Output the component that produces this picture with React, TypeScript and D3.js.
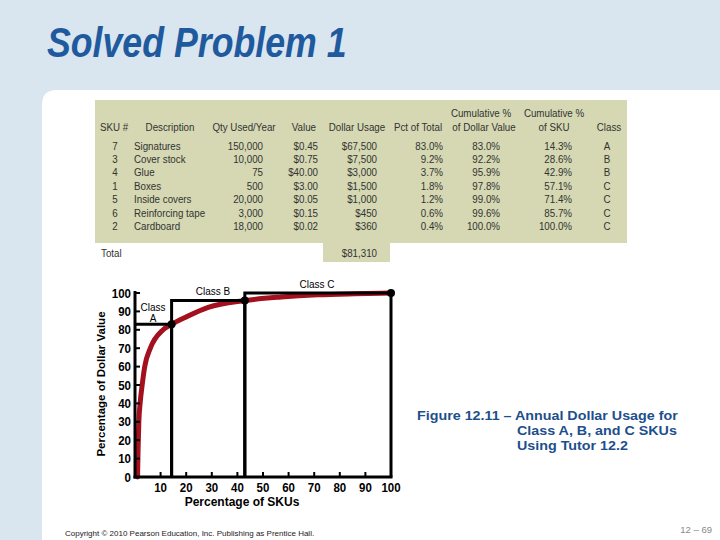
import React from "react";
import * as d3 from "d3";

const skuIds = ["7", "3", "4", "1", "5", "6", "2"];
const descriptions = ["Signatures", "Cover stock", "Glue", "Boxes", "Inside covers", "Reinforcing tape", "Cardboard"];
const qtyUsed = ["150,000", "10,000", "75", "500", "20,000", "3,000", "18,000"];
const unitValues = ["$0.45", "$0.75", "$40.00", "$3.00", "$0.05", "$0.15", "$0.02"];
const dollarUsage = ["$67,500", "$7,500", "$3,000", "$1,500", "$1,000", "$450", "$360"];
const pctOfTotal = ["83.0%", "9.2%", "3.7%", "1.8%", "1.2%", "0.6%", "0.4%"];
const cumDollarPct = [83.0, 92.2, 95.9, 97.8, 99.0, 99.6, 100.0];
const cumSkuPct = [14.3, 28.6, 42.9, 57.1, 71.4, 85.7, 100.0];
const skuClass = ["A", "B", "B", "C", "C", "C", "C"];
const totalUsage = "$81,310";

// curve
const curveX = [1, 1.2, 1.5, 2, 2.8, 3.8, 6, 11, 14.3, 20, 28.6, 42.9, 57.1, 71.4, 85.7, 100];
const curveY = [0, 15, 30, 40, 50, 60, 70, 80, 83, 87, 92.2, 95.9, 97.8, 99, 99.6, 100];

const yTicks = [0, 10, 20, 30, 40, 50, 60, 70, 80, 90, 100];
const xTicks = [10, 20, 30, 40, 50, 60, 70, 80, 90, 100];

const classNames = ["A", "B", "C"];

type TP = { x: number; y: number; sx?: number; anchor?: string; children: React.ReactNode; [k: string]: any };
function T({ x, y, sx = 0.85, anchor = "start", children, ...rest }: TP) {
  return (
    <text transform={`translate(${x},${y}) scale(${sx},1)`} textAnchor={anchor} {...rest}>
      {children}
    </text>
  );
}

export default function App() {
  const x = d3.scaleLinear().domain([0, 100]).range([135, 391]);
  const y = d3.scaleLinear().domain([0, 100]).range([477, 293]);

  const line = d3
    .line<number>()
    .x((_, i) => x(curveX[i]))
    .y((d) => y(d))
    .curve(d3.curveMonotoneX);

  const tFont = "'Liberation Sans', Arial, sans-serif";
  const tColor = "#333333";
  const rowY = (i: number) => 149.5 + i * 13.4;

  const aX = cumSkuPct[0];
  const bX = cumSkuPct[2];
  const aY = cumDollarPct[0];
  const bY = cumDollarPct[2];

  const boxPath = [
    `M${x(0)},${y(aY)} H${x(aX)} V${y(0)}`,
    `M${x(aX)},${y(0)} V${y(bY)} H${x(bX)} V${y(0)}`,
    `M${x(bX)},${y(0)} V${y(100)} H${x(100)} V${y(0)}`,
  ];

  const dots = [0, 2, 6];

  return (
    <svg width={720} height={540} style={{ position: "absolute", left: 0, top: 0 }} fontFamily="Arial, 'Liberation Sans', sans-serif">
      <rect x={0} y={0} width={720} height={540} fill="#dae6ef" />
      <path d="M42,105 Q42,90 57,90 H720 V540 H42 Z" fill="#ffffff" />
      <T x={47} y={57} sx={0.85} fontSize={42} fontWeight="bold" fontStyle="italic" fill="#1f5a9e">
        Solved Problem 1
      </T>

      {/* table */}
      <rect x={95} y={100} width={532} height={143} fill="#d5d8b2" />
      <rect x={323} y={243} width={67} height={19} fill="#d5d8b2" />
      <g fontFamily={tFont} fontSize={11.5} fill={tColor}>
        <T x={481} y={117} anchor="middle">Cumulative %</T>
        <T x={554} y={117} anchor="middle">Cumulative %</T>
        <T x={100} y={131}>SKU #</T>
        <T x={170} y={131} anchor="middle">Description</T>
        <T x={244} y={131} anchor="middle">Qty Used/Year</T>
        <T x={316} y={131} anchor="end">Value</T>
        <T x={357} y={131} anchor="middle">Dollar Usage</T>
        <T x={418} y={131} anchor="middle">Pct of Total</T>
        <T x={484} y={131} anchor="middle">of Dollar Value</T>
        <T x={554} y={131} anchor="middle">of SKU</T>
        <T x={609} y={131} anchor="middle">Class</T>
        {skuIds.map((s, i) => (
          <g key={i}>
            <T x={115} y={rowY(i)} anchor="middle">{s}</T>
            <T x={134} y={rowY(i)}>{descriptions[i]}</T>
            <T x={263} y={rowY(i)} anchor="end">{qtyUsed[i]}</T>
            <T x={318} y={rowY(i)} anchor="end">{unitValues[i]}</T>
            <T x={377} y={rowY(i)} anchor="end">{dollarUsage[i]}</T>
            <T x={443} y={rowY(i)} anchor="end">{pctOfTotal[i]}</T>
            <T x={500} y={rowY(i)} anchor="end">{cumDollarPct[i].toFixed(1)}%</T>
            <T x={572} y={rowY(i)} anchor="end">{cumSkuPct[i].toFixed(1)}%</T>
            <T x={607} y={rowY(i)} anchor="middle">{skuClass[i]}</T>
          </g>
        ))}
        <T x={101} y={257}>Total</T>
        <T x={377} y={257} anchor="end">{totalUsage}</T>
      </g>

      {/* chart */}
      <path d={line(curveY) || ""} fill="none" stroke="#a3111f" strokeWidth={5} strokeLinecap="round" />
      {boxPath.map((p, i) => (
        <path key={i} d={p} fill="none" stroke="#000" strokeWidth={3} />
      ))}
      <line x1={x(0)} x2={x(0)} y1={y(100) - 2} y2={y(0) + 1.5} stroke="#000" strokeWidth={3} />
      <line x1={x(0) - 1.5} x2={x(100) + 1.5} y1={y(0)} y2={y(0)} stroke="#000" strokeWidth={3} />
      {yTicks.map((t) => (
        <g key={t}>
          <line x1={x(0)} x2={x(0) + 5} y1={y(t)} y2={y(t)} stroke="#000" strokeWidth={2} />
          <T x={131} y={y(t) + 4.5} sx={0.92} anchor="end" fontSize={12.5} fontWeight="bold">{t}</T>
        </g>
      ))}
      {xTicks.map((t) => (
        <g key={t}>
          <line x1={x(t)} x2={x(t)} y1={y(0)} y2={y(0) - 5} stroke="#000" strokeWidth={2} />
          <T x={x(t)} y={492} sx={0.92} anchor="middle" fontSize={12.5} fontWeight="bold">{t}</T>
        </g>
      ))}
      {dots.map((i) => (
        <circle key={i} cx={x(cumSkuPct[i])} cy={y(cumDollarPct[i])} r={4} fill="#000" />
      ))}
      <g fontSize={10} textAnchor="middle">
        <text x={153} y={311}>Class</text>
        <text x={153} y={322}>{classNames[0]}</text>
        <text x={213} y={295}>Class {classNames[1]}</text>
        <text x={317} y={288}>Class {classNames[2]}</text>
      </g>
      <text transform="translate(105,384) rotate(-90)" textAnchor="middle" fontSize={11.5} fontWeight="bold">
        Percentage of Dollar Value
      </text>
      <text x={242} y={506} textAnchor="middle" fontSize={12} fontWeight="bold">
        Percentage of SKUs
      </text>

      {/* caption */}
      <g fontSize={13} fontWeight="bold" fill="#1d4f8c">
        <T x={417} y={420} sx={1.1}>Figure 12.11 – Annual Dollar Usage for</T>
        <T x={517} y={435} sx={1.1}>Class A, B, and C SKUs</T>
        <T x={517} y={450} sx={1.1}>Using Tutor 12.2</T>
      </g>

      <text x={65} y={536} fontSize={8} fill="#222">
        Copyright © 2010 Pearson Education, Inc. Publishing as Prentice Hall.
      </text>
      <text x={712} y={533} fontSize={9.5} fill="#888" textAnchor="end">12 – 69</text>
    </svg>
  );
}
